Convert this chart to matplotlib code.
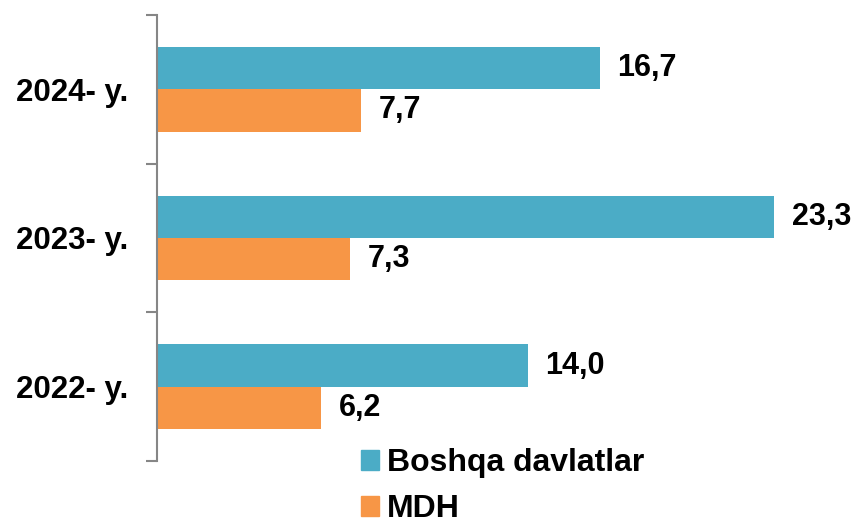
import matplotlib.pyplot as plt
from matplotlib.patches import Patch

# data
years = ["2022- y.", "2023- y.", "2024- y."]
boshqa = [14.0, 23.3, 16.7]
mdh = [6.2, 7.3, 7.7]
series_names = ["Boshqa davlatlar", "MDH"]

blue = "#4BACC6"
orange = "#F79646"
grey = "#868686"

plt.rcParams["font.family"] = ["Liberation Sans", "DejaVu Sans"]

fig = plt.figure(figsize=(8.54, 5.2), dpi=100)
ax = fig.add_axes([157 / 854, 1 - 461 / 520, 1 - 157 / 854, (461 - 15) / 520])

pos = list(range(len(years)))
h = 0.284
ax.barh([p + h / 2 for p in pos], boshqa, height=h, color=blue)
ax.barh([p - h / 2 for p in pos], mdh, height=h, color=orange)

# value labels
for p, v in zip(pos, boshqa):
    ax.annotate(f"{v:.1f}".replace(".", ","), (v, p + h / 2), xytext=(12.5, 0),
                textcoords="offset points", va="center", ha="left",
                fontsize=22, fontweight="bold")
for p, v in zip(pos, mdh):
    ax.annotate(f"{v:.1f}".replace(".", ","), (v, p - h / 2), xytext=(12.5, 0),
                textcoords="offset points", va="center", ha="left",
                fontsize=22, fontweight="bold")

ax.set_xlim(0, 26.3)
ax.set_ylim(-0.5, 2.5)

# category boundaries as ticks, labels in the middle
ax.set_yticks([-0.5, 0.5, 1.5, 2.5])
ax.set_yticklabels([])
ax.set_yticks(pos, minor=True)
ax.set_yticklabels(years, minor=True, fontsize=22.5, fontweight="bold")
ax.tick_params(axis="y", which="major", length=8, width=1.5, color=grey, direction="out")
ax.tick_params(axis="y", which="minor", length=0, pad=21)
ax.set_xticks([])

for s in ["top", "right", "bottom"]:
    ax.spines[s].set_visible(False)
ax.spines["left"].set_color(grey)
ax.spines["left"].set_linewidth(1.5)

handles = [Patch(color=blue), Patch(color=orange)]
fig.legend(handles, series_names, loc="upper left",
           bbox_to_anchor=(361 / 854, 1 - 448 / 520), frameon=False,
           prop={"size": 23, "weight": "bold"}, handlelength=0.55, handleheight=0.6,
           handletextpad=0.25, labelspacing=0.5, borderpad=0, borderaxespad=0)

fig.savefig("out.png", dpi=100)
